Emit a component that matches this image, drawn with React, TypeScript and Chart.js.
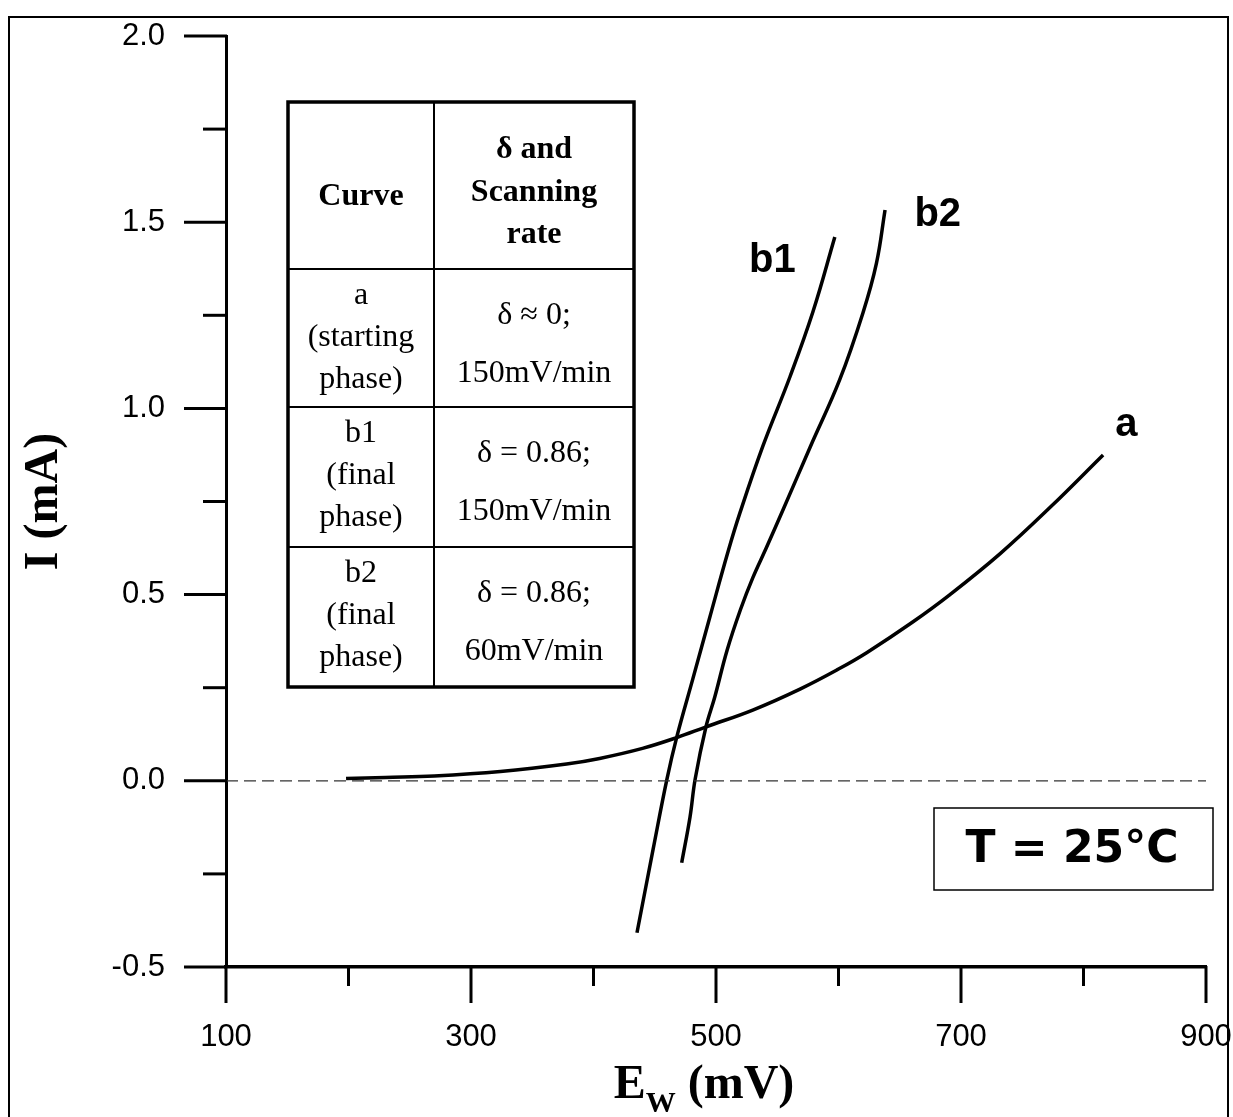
import React, { useEffect, useRef } from 'react';
import { Chart, registerables } from 'chart.js';

Chart.register(...registerables);

// ---- axis ticks ----
const xMajorTicks = [100, 300, 500, 700, 900];
const xMinorTicks = [200, 400, 600, 800];
const yMajorTicks = [-0.5, 0, 0.5, 1.0, 1.5, 2.0];
const yMinorTicks = [-0.25, 0.25, 0.75, 1.25, 1.75];

// ---- curve a (starting phase, δ≈0, 150 mV/min) ----
const curveA_E = [198, 230, 270, 324, 378, 405, 440, 468, 492, 530, 569, 600, 623, 660, 691, 732, 773, 816];
const curveA_I = [0.006, 0.009, 0.013, 0.025, 0.045, 0.06, 0.087, 0.116, 0.145, 0.19, 0.247, 0.3, 0.344, 0.425, 0.5, 0.61, 0.735, 0.875];

// ---- curve b1 (final phase, δ=0.86, 150 mV/min) ----
const curveB1_E = [435.5, 448.6, 460, 468, 481.2, 495, 509.8, 519.6, 538.4, 560.4, 579.2, 597];
const curveB1_I = [-0.408, -0.185, 0.005, 0.118, 0.275, 0.44, 0.615, 0.72, 0.9, 1.085, 1.26, 1.46];

// ---- curve b2 (final phase, δ=0.86, 60 mV/min) ----
const curveB2_E = [472, 478.8, 483, 491.8, 499, 509, 520, 530, 541, 555, 577, 601, 620, 631, 638];
const curveB2_I = [-0.22, -0.097, 0.005, 0.145, 0.225, 0.35, 0.46, 0.545, 0.625, 0.73, 0.897, 1.077, 1.257, 1.39, 1.533];

// ---- zero reference line ----
const zeroLineE = [100, 900];
const zeroLineI = [0, 0];

// ---- curve labels ----
const curveLabelTexts = ['b1', 'b2', 'a'];
const curveLabelE = [546, 681, 835];
const curveLabelI = [1.395, 1.52, 0.955];

// ---- table ----
const tableHeaderCurve = ['Curve'];
const tableHeaderInfo = ['δ and', 'Scanning', 'rate'];
const tableRowCurve = [
  ['a', '(starting', 'phase)'],
  ['b1', '(final', 'phase)'],
  ['b2', '(final', 'phase)'],
];
const tableRowInfo = [
  ['δ ≈ 0;', '150mV/min'],
  ['δ = 0.86;', '150mV/min'],
  ['δ = 0.86;', '60mV/min'],
];

const tempText = 'T = 25°C';

const toPoints = (xs: number[], ys: number[]) => xs.map((x, i) => ({ x, y: ys[i] }));

const zeroPad = (s: any) => {
  s.paddingTop = 0;
  s.paddingBottom = 0;
  s.paddingLeft = 0;
  s.paddingRight = 0;
};

const decorPlugin = {
  id: 'decor',
  afterDraw(chart: any) {
    const ctx: CanvasRenderingContext2D = chart.ctx;
    const xs = chart.scales.x;
    const ys = chart.scales.y;
    const { left, bottom } = chart.chartArea;
    ctx.save();
    ctx.strokeStyle = '#000';
    ctx.fillStyle = '#000';
    ctx.lineCap = 'butt';

    const line = (x1: number, y1: number, x2: number, y2: number) => {
      ctx.beginPath();
      ctx.moveTo(x1, y1);
      ctx.lineTo(x2, y2);
      ctx.stroke();
    };

    // outer frame
    ctx.lineWidth = 2;
    ctx.beginPath();
    ctx.moveTo(9, 1117);
    ctx.lineTo(9, 17);
    ctx.lineTo(1228, 17);
    ctx.lineTo(1228, 1117);
    ctx.stroke();

    // tick marks
    ctx.lineWidth = 3;
    yMajorTicks.forEach((v) => {
      const p = ys.getPixelForValue(v);
      line(left - 42, p, left + 1, p);
    });
    yMinorTicks.forEach((v) => {
      const p = ys.getPixelForValue(v);
      line(left - 23, p, left, p);
    });
    xMajorTicks.forEach((v) => {
      const p = xs.getPixelForValue(v);
      line(p, bottom - 1, p, bottom + 36);
    });
    xMinorTicks.forEach((v) => {
      const p = xs.getPixelForValue(v);
      line(p, bottom, p, bottom + 19);
    });

    // x axis title with subscript
    const mainFont = 'bold 48px "Liberation Serif"';
    const subFont = 'bold 30px "Liberation Serif"';
    ctx.font = mainFont;
    const wE = ctx.measureText('E').width;
    const wRest = ctx.measureText(' (mV)').width;
    ctx.font = subFont;
    const wW = ctx.measureText('W').width;
    const total = wE + wW + wRest;
    let tx = 704 - total / 2;
    ctx.textAlign = 'left';
    ctx.textBaseline = 'alphabetic';
    ctx.font = mainFont;
    ctx.fillText('E', tx, 1098);
    tx += wE;
    ctx.font = subFont;
    ctx.fillText('W', tx, 1112);
    tx += wW;
    ctx.font = mainFont;
    ctx.fillText(' (mV)', tx, 1098);

    // curve labels
    ctx.font = 'bold 40px "Liberation Sans"';
    ctx.textAlign = 'center';
    ctx.textBaseline = 'middle';
    curveLabelTexts.forEach((t, i) => {
      ctx.fillText(t, xs.getPixelForValue(curveLabelE[i]), ys.getPixelForValue(curveLabelI[i]));
    });

    // table
    const tx0 = 288, tx1 = 434, tx2 = 634;
    const rowY = [102, 269, 407, 547, 687];
    ctx.fillStyle = '#fff';
    ctx.fillRect(tx0, rowY[0], tx2 - tx0, rowY[4] - rowY[0]);
    ctx.fillStyle = '#000';
    ctx.lineWidth = 2;
    line(tx1, rowY[0], tx1, rowY[4]);
    for (let r = 1; r < 4; r++) line(tx0, rowY[r], tx2, rowY[r]);
    ctx.lineWidth = 3.5;
    ctx.strokeRect(tx0, rowY[0], tx2 - tx0, rowY[4] - rowY[0]);

    const c1 = (tx0 + tx1) / 2;
    const c2 = (tx1 + tx2) / 2;
    ctx.textAlign = 'center';
    ctx.textBaseline = 'alphabetic';
    ctx.font = 'bold 32px "Liberation Serif"';
    ctx.fillText(tableHeaderCurve[0], c1, 205);
    tableHeaderInfo.forEach((t, i) => ctx.fillText(t, c2, 158 + i * 42.5));
    ctx.font = '32px "Liberation Serif"';
    const c1Off = [35, 77, 119];
    const c2Off = [55, 113];
    tableRowCurve.forEach((lines, r) => {
      lines.forEach((t, i) => ctx.fillText(t, c1, rowY[r + 1] + c1Off[i]));
    });
    tableRowInfo.forEach((lines, r) => {
      lines.forEach((t, i) => ctx.fillText(t, c2, rowY[r + 1] + c2Off[i]));
    });

    // temperature box
    ctx.fillStyle = '#fff';
    ctx.fillRect(934, 808, 279, 82);
    ctx.fillStyle = '#000';
    ctx.lineWidth = 1.5;
    ctx.strokeRect(934, 808, 279, 82);
    ctx.font = 'bold 44px "DejaVu Sans"';
    ctx.textAlign = 'center';
    ctx.textBaseline = 'middle';
    ctx.fillText(tempText, 1072, 851);

    ctx.restore();
  },
};

export default function App() {
  const ref = useRef<HTMLCanvasElement | null>(null);

  useEffect(() => {
    if (!ref.current) return;
    const curveStyle = {
      borderColor: '#000',
      borderWidth: 3.5,
      pointRadius: 0,
      tension: 0.4,
    };
    const chart = new Chart(ref.current, {
      type: 'line',
      data: {
        datasets: [
          {
            label: 'zero',
            data: toPoints(zeroLineE, zeroLineI),
            borderColor: '#333',
            borderWidth: 1.3,
            borderDash: [12, 6],
            pointRadius: 0,
            tension: 0,
          },
          { label: 'a', data: toPoints(curveA_E, curveA_I), ...curveStyle },
          { label: 'b1', data: toPoints(curveB1_E, curveB1_I), ...curveStyle },
          { label: 'b2', data: toPoints(curveB2_E, curveB2_I), ...curveStyle },
        ],
      },
      options: {
        responsive: false,
        animation: false,
        devicePixelRatio: 1,
        layout: { padding: { left: 0, right: 27, top: 36, bottom: 0 } },
        plugins: {
          legend: { display: false },
          tooltip: { enabled: false },
        },
        elements: { line: { borderCapStyle: 'butt' } },
        scales: {
          x: {
            type: 'linear',
            min: 100,
            max: 900,
            afterBuildTicks: (s: any) => {
              s.ticks = xMajorTicks.map((v) => ({ value: v }));
            },
            afterFit: (s: any) => {
              s.height = 150;
              zeroPad(s);
            },
            grid: { display: false, drawTicks: false },
            border: { display: true, color: '#000', width: 3.5 },
            ticks: {
              color: '#000',
              padding: 52,
              autoSkip: false,
              maxRotation: 0,
              font: { family: '"Liberation Sans"', size: 31 },
              callback: (v: any) => String(v),
            },
          },
          y: {
            type: 'linear',
            min: -0.5,
            max: 2.0,
            afterBuildTicks: (s: any) => {
              s.ticks = yMajorTicks.map((v) => ({ value: v }));
            },
            afterFit: (s: any) => {
              s.width = 226;
              zeroPad(s);
            },
            grid: { display: false, drawTicks: false },
            border: { display: true, color: '#000', width: 3 },
            ticks: {
              color: '#000',
              padding: 61,
              autoSkip: false,
              font: { family: '"Liberation Sans"', size: 31 },
              callback: (v: any) => Number(v).toFixed(1),
            },
            title: {
              display: true,
              text: 'I (mA)',
              color: '#000',
              padding: { top: 16, bottom: 0 },
              font: { family: '"Liberation Serif"', size: 48, weight: 'bold' },
            },
          },
        },
      },
      plugins: [decorPlugin],
    } as any);
    return () => chart.destroy();
  }, []);

  return (
    <div style={{ position: 'absolute', left: 0, top: 0, width: 1233, height: 1117, background: '#fff' }}>
      <canvas ref={ref} width={1233} height={1117} style={{ display: 'block' }} />
    </div>
  );
}
